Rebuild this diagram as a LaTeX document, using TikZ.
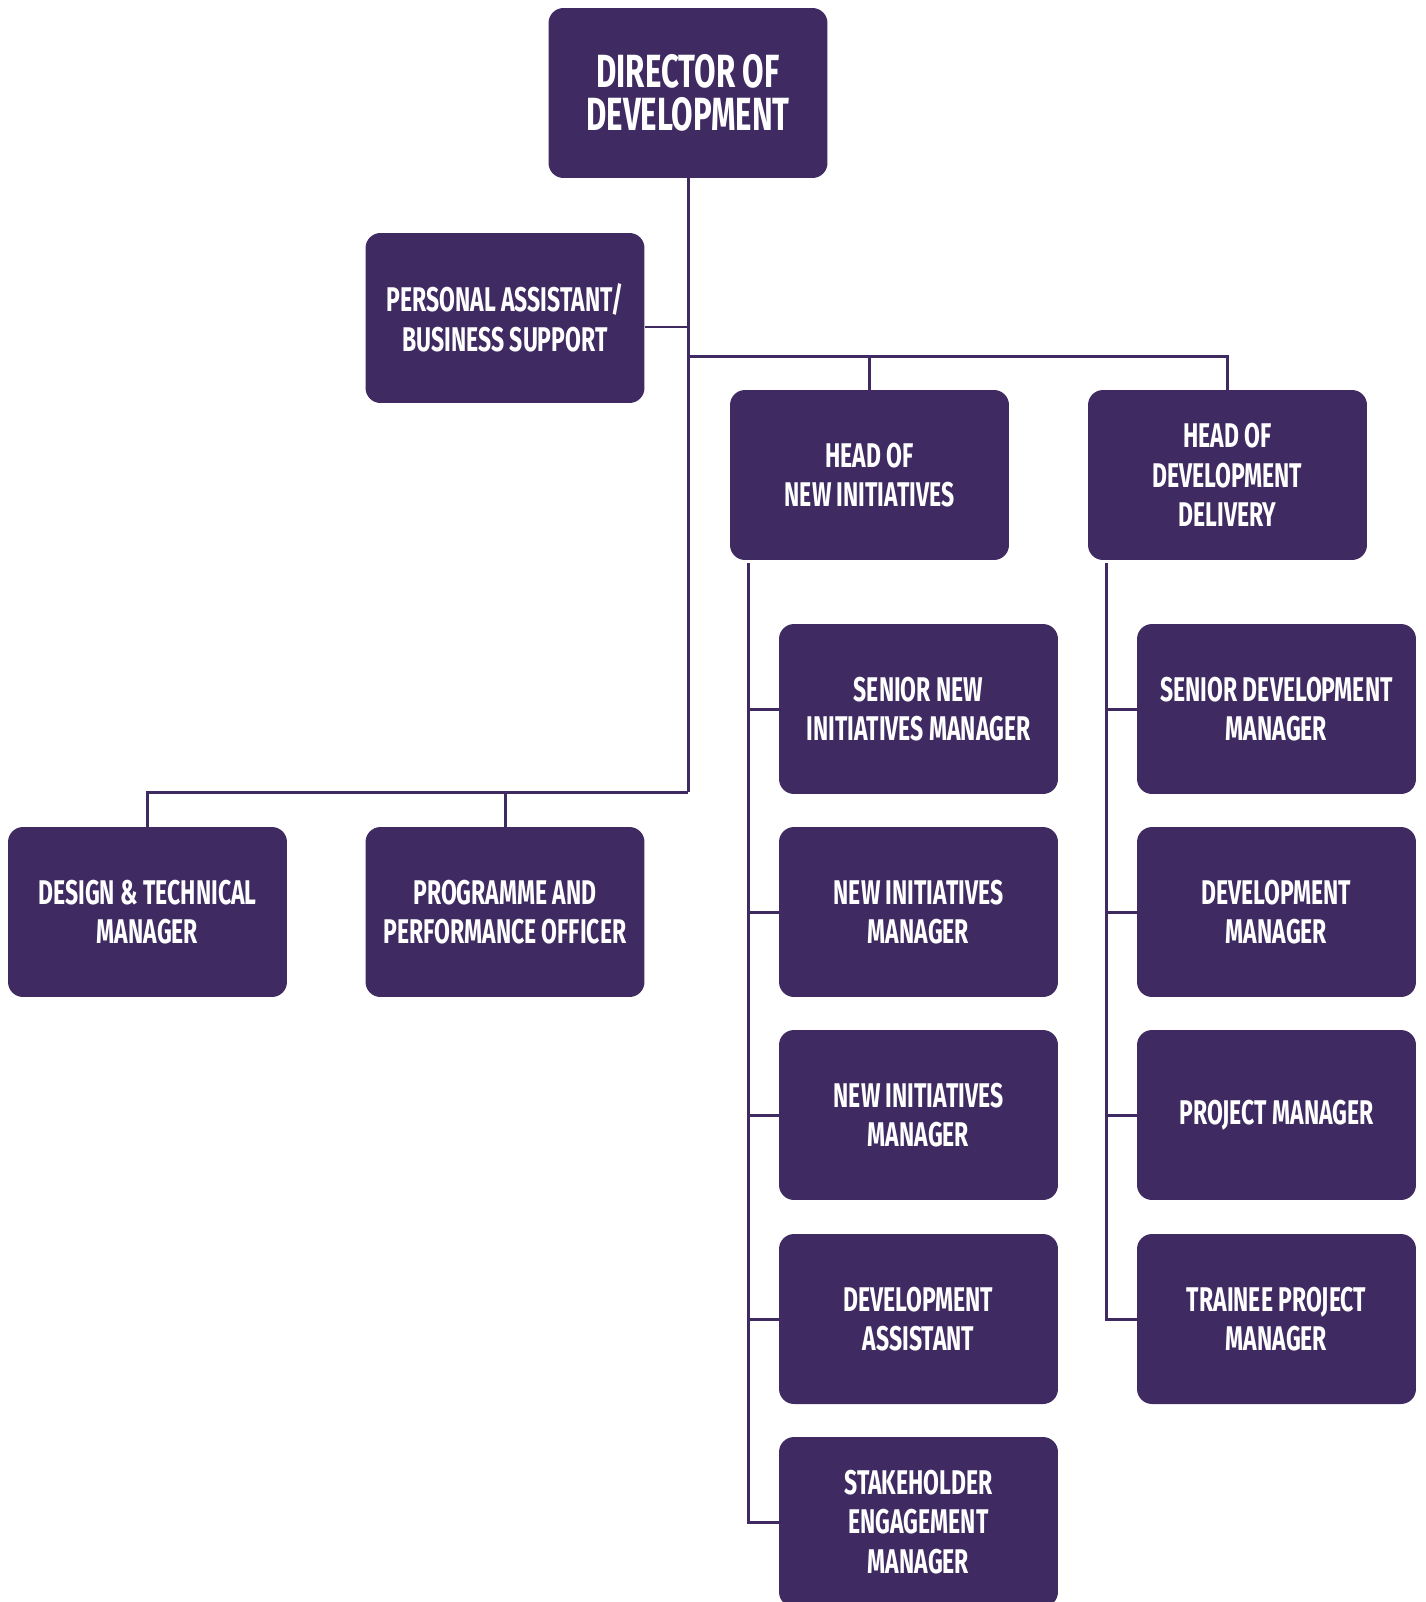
\documentclass[tikz,border=0pt]{standalone}
\usepackage{fontspec}
\usepackage{tikz}

\newfontfamily\boxfont[FakeStretch=0.67]{Fira Sans}
\definecolor{orgpurple}{RGB}{63,43,98}

\tikzset{
    role/.style={rectangle, rounded corners=0.3cm, fill=orgpurple, text=white,
        minimum width=5.58cm, minimum height=3.4cm, align=center, inner sep=0pt,
        font=\boxfont\bfseries\fontsize{19.5}{22.5}\selectfont},
    toprole/.style={role, font=\boxfont\bfseries\fontsize{26.5}{24.5}\selectfont},
    link/.style={draw=orgpurple, line width=1.7pt}
}

\begin{document}
\begin{tikzpicture}[x=0.02cm, y=-0.02cm]
        \useasboundingbox (0,0) rectangle (1426,1602);

        % Director at the top
        \node[toprole] (dir) at (688,93) {DIRECTOR OF\\DEVELOPMENT};

        % Support and the two heads
        \node[role] (pa) at (505,318) {PERSONAL ASSISTANT/\\BUSINESS SUPPORT};
        \node[role] (hni) at (869.5,475) {HEAD OF\\NEW INITIATIVES};
        \node[role] (hdd) at (1227.5,475) {HEAD OF\\DEVELOPMENT\\DELIVERY};

        % Left branch
        \node[role] (design) at (147.5,912) {DESIGN \& TECHNICAL\\MANAGER};
        \node[role] (prog) at (505,912) {PROGRAMME AND\\PERFORMANCE OFFICER};

        % New initiatives team
        \node[role] (ni1) at (918.5,709) {SENIOR NEW\\INITIATIVES MANAGER};
        \node[role] (ni2) at (918.5,912) {NEW INITIATIVES\\MANAGER};
        \node[role] (ni3) at (918.5,1115) {NEW INITIATIVES\\MANAGER};
        \node[role] (ni4) at (918.5,1319) {DEVELOPMENT\\ASSISTANT};
        \node[role] (ni5) at (918.5,1522) {STAKEHOLDER\\ENGAGEMENT\\MANAGER};

        % Development delivery team
        \node[role] (dd1) at (1276.5,709) {SENIOR DEVELOPMENT\\MANAGER};
        \node[role] (dd2) at (1276.5,912) {DEVELOPMENT\\MANAGER};
        \node[role] (dd3) at (1276.5,1115) {PROJECT MANAGER};
        \node[role] (dd4) at (1276.5,1319) {TRAINEE PROJECT\\MANAGER};

        % Trunk and branch points
        \coordinate (upbar) at (688,356.5);
        \coordinate (lowbar) at (688,792);
        \coordinate (nirail) at ([xshift=0.38cm, yshift=-0.06cm]hni.south west);
        \coordinate (ddrail) at ([xshift=0.38cm, yshift=-0.06cm]hdd.south west);

        \draw[link] (dir.south) -- (lowbar);
        \draw[link] ([yshift=-0.18cm]pa.east) -- ([yshift=-0.18cm]pa.east -| dir.south);
        \draw[link] (upbar) -- (upbar -| hdd.north) -- (hdd.north);
        \draw[link] (upbar -| hni.north) -- (hni.north);
        \draw[link] (lowbar) -- (lowbar -| design.north) -- (design.north);
        \draw[link] (lowbar -| prog.north) -- (prog.north);

        % Rails down each team
        \draw[link] (nirail) -- (nirail |- ni5.west) -- (ni5.west);
        \foreach \n in {ni1,ni2,ni3,ni4}
            \draw[link] (nirail |- \n.west) -- (\n.west);
        \draw[link] (ddrail) -- (ddrail |- dd4.west) -- (dd4.west);
        \foreach \n in {dd1,dd2,dd3}
            \draw[link] (ddrail |- \n.west) -- (\n.west);

\end{tikzpicture}
\end{document}
